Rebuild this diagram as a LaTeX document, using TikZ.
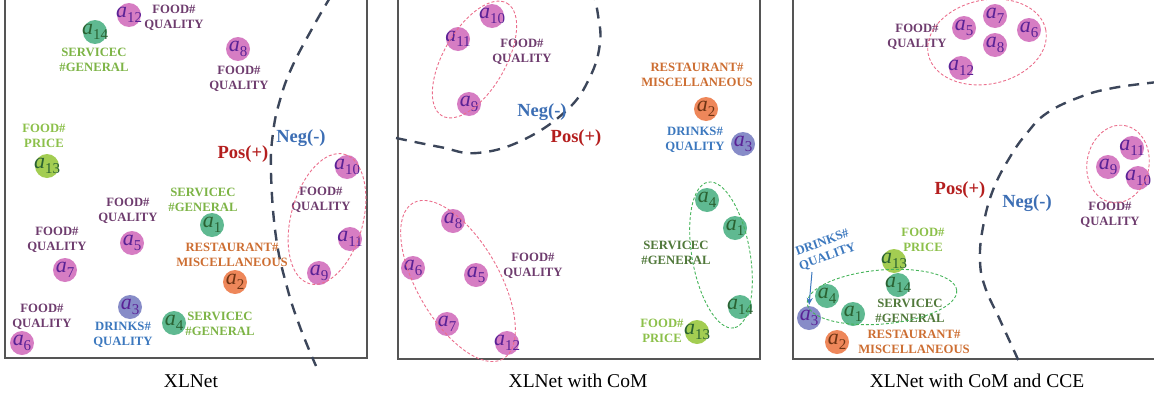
\documentclass[tikz,border=0pt]{standalone}
\usepackage{fontspec}
\setmainfont{Liberation Serif}
\usetikzlibrary{arrows.meta}

% palette
\definecolor{pinkdot}{HTML}{D67DC3}
\definecolor{greendot}{HTML}{5FB991}
\definecolor{limedot}{HTML}{A3CD52}
\definecolor{orangedot}{HTML}{EE875A}
\definecolor{bluedot}{HTML}{878CC8}
\definecolor{purpletxt}{HTML}{5A2296}
\definecolor{greentxt}{HTML}{2A6232}
\definecolor{browntxt}{HTML}{6E3414}
\definecolor{foodq}{HTML}{6E3C6E}
\definecolor{servlight}{HTML}{7DB446}
\definecolor{servdark}{HTML}{50783A}
\definecolor{pricegreen}{HTML}{8CC04A}
\definecolor{restor}{HTML}{CD6E32}
\definecolor{drinkblue}{HTML}{3C78BE}
\definecolor{posred}{HTML}{B41E1E}
\definecolor{negblue}{HTML}{3C6EB4}
\definecolor{boundary}{HTML}{3C465A}
\definecolor{ringpink}{HTML}{EB6E8C}
\definecolor{ringgreen}{HTML}{46B45A}
\definecolor{framegray}{HTML}{555555}

% aspect symbol a_k
\newcommand\am[1]{\makebox[0pt]{\fontsize{22}{22}\selectfont\textit{a}\raisebox{-4.5pt}{\fontsize{15}{15}\selectfont #1}}}

\begin{document}
\begin{tikzpicture}[x=1pt,y=-1pt,
  dot/.style={circle,fill=#1,minimum size=24pt,inner sep=0pt},
  pk/.style={dot=pinkdot,text=purpletxt},
  gr/.style={dot=greendot,text=greentxt},
  lm/.style={dot=limedot,text=greentxt},
  og/.style={dot=orangedot,text=browntxt},
  bl/.style={dot=bluedot,text=purpletxt},
  tag/.style={align=center,inner sep=0pt,font=\bfseries\fontsize{12.7}{15}\selectfont},
  fq/.style={tag,text=foodq},
  svl/.style={tag,text=servlight},
  svd/.style={tag,text=servdark},
  prc/.style={tag,text=pricegreen},
  rst/.style={tag,text=restor},
  drk/.style={tag,text=drinkblue},
  postag/.style={inner sep=0pt,text=posred,font=\bfseries\fontsize{18.5}{18.5}\selectfont},
  negtag/.style={inner sep=0pt,text=negblue,font=\bfseries\fontsize{18.5}{18.5}\selectfont},
  bound/.style={draw=boundary,line width=2.4pt,dash pattern=on 11pt off 8pt},
  ringp/.style={draw=ringpink,line width=0.9pt,dash pattern=on 3pt off 2pt},
  ringg/.style={draw=ringgreen,line width=0.9pt,dash pattern=on 3pt off 2pt},
  frame/.style={draw=framegray,line width=1.5pt},
  caption/.style={inner sep=0pt,font=\fontsize{19.5}{20}\selectfont}
]
\useasboundingbox (0,0) rectangle (1154,399);
\clip (0,0) rectangle (1154,399);

% ---------- panel frames (top edge open) ----------
\draw[frame] (5,-5) -- (5,358) -- (367,358) -- (367,-5);
\draw[frame] (398,-5) -- (398,359) -- (760,359) -- (760,-5);
\draw[frame] (793,-5) -- (793,359) -- (1160,359);

% ---------- panel 1: XLNet ----------
\draw[bound] plot[smooth,tension=0.7] coordinates {(331,-4) (313,27) (292,67) (280,100) (273,133) (271,173) (276,237) (287,287) (300,327) (316,366)};

\node[pk] (p1a12) at (129,15) {\am{12}};
\node[gr] (p1a14) at (95,32) {\am{14}};
\node[pk] (p1a8) at (238,49) {\am{8}};
\node[lm] (p1a13) at (47,166) {\am{13}};
\node[pk] (p1a10) at (347,167) {\am{10}};
\node[pk] (p1a11) at (350,239) {\am{11}};
\node[pk] (p1a9) at (319,273) {\am{9}};
\node[pk] (p1a5) at (132,243) {\am{5}};
\node[gr] (p1a1) at (212,225) {\am{1}};
\node[og] (p1a2) at (235,282) {\am{2}};
\node[pk] (p1a7) at (65,270) {\am{7}};
\node[pk] (p1a6) at (22,343) {\am{6}};
\node[bl] (p1a3) at (130,307) {\am{3}};
\node[gr] (p1a4) at (174,323) {\am{4}};

\node[fq] (p1t1) at (174,18) {FOOD\#\\QUALITY};
\node[svl] (p1t2) at (94,60) {SERVICEC\\\#GENERAL};
\node[fq] (p1t3) at (239,79) {FOOD\#\\QUALITY};
\node[prc] (p1t4) at (44,136) {FOOD\#\\PRICE};
\node[fq] (p1t5) at (321,200) {FOOD\#\\QUALITY};
\node[fq] (p1t6) at (128,211) {FOOD\#\\QUALITY};
\node[svl] (p1t7) at (203,200) {SERVICEC\\\#GENERAL};
\node[rst] (p1t8) at (232,255) {RESTAURANT\#\\MISCELLANEOUS};
\node[fq] (p1t9) at (57,240) {FOOD\#\\QUALITY};
\node[fq] (p1t10) at (42,317) {FOOD\#\\QUALITY};
\node[drk] (p1t11) at (123,335) {DRINKS\#\\QUALITY};
\node[svl] (p1t12) at (220,324) {SERVICEC\\\#GENERAL};
\node[negtag] (p1neg) at (301,138) {Neg(-)};
\node[postag] (p1pos) at (243,154) {Pos(+)};

\draw[ringp,rotate around={75:(327,219)}] (327,219) ellipse [x radius=67,y radius=36];

% ---------- panel 2: XLNet with CoM ----------
\draw[bound] plot[smooth,tension=0.7] coordinates {(396,138) (440,147) (477,153) (523,140) (567,110) (590,77) (600,43) (598,15) (594,-4)};

\node[pk] (p2a10) at (492,16) {\am{10}};
\node[pk] (p2a11) at (458,39) {\am{11}};
\node[pk] (p2a9) at (469,104) {\am{9}};
\node[og] (p2a2) at (706,109) {\am{2}};
\node[bl] (p2a3) at (743,144) {\am{3}};
\node[pk] (p2a8) at (453,221) {\am{8}};
\node[pk] (p2a6) at (413,268) {\am{6}};
\node[pk] (p2a5) at (476,275) {\am{5}};
\node[pk] (p2a7) at (447,324) {\am{7}};
\node[pk] (p2a12) at (507,343) {\am{12}};
\node[gr] (p2a4) at (707,200) {\am{4}};
\node[gr] (p2a1) at (735,228) {\am{1}};
\node[gr] (p2a14) at (740,307) {\am{14}};
\node[lm] (p2a13) at (697,332) {\am{13}};

\node[fq] (p2t1) at (522,52) {FOOD\#\\QUALITY};
\node[rst] (p2t2) at (697,75) {RESTAURANT\#\\MISCELLANEOUS};
\node[drk] (p2t3) at (695,140) {DRINKS\#\\QUALITY};
\node[fq] (p2t4) at (533,266) {FOOD\#\\QUALITY};
\node[svd] (p2t5) at (676,253) {SERVICEC\\\#GENERAL};
\node[prc] (p2t6) at (662,331) {FOOD\#\\PRICE};
\node[negtag] (p2neg) at (542,112) {Neg(-)};
\node[postag] (p2pos) at (576,138) {Pos(+)};

\draw[ringp,rotate around={60:(474.5,59.5)}] (474.5,59.5) ellipse [x radius=65,y radius=31];
\draw[ringp,rotate around={-60:(458,281)}] (458,281) ellipse [x radius=90,y radius=41];
\draw[ringg,rotate around={-80:(721,255)}] (721,255) ellipse [x radius=74,y radius=29];

% ---------- panel 3: XLNet with CoM and CCE ----------
\draw[bound] plot[smooth,tension=0.7] coordinates {(1158,82) (1113,88) (1080,97) (1047,113) (1027,133) (1010,157) (993,190) (983,227) (980,260) (985,287) (1000,320) (1021,366)};

\node[pk] (p3a5) at (964,28) {\am{5}};
\node[pk] (p3a7) at (995,16) {\am{7}};
\node[pk] (p3a8) at (995,45) {\am{8}};
\node[pk] (p3a6) at (1029,30) {\am{6}};
\node[pk] (p3a12) at (961,68) {\am{12}};
\node[pk] (p3a11) at (1132,148) {\am{11}};
\node[pk] (p3a9) at (1108,167) {\am{9}};
\node[pk] (p3a10) at (1138,178) {\am{10}};
\node[lm] (p3a13) at (894,261) {\am{13}};
\node[gr] (p3a14) at (898,285) {\am{14}};
\node[gr] (p3a4) at (827,296) {\am{4}};
\node[gr] (p3a1) at (853,314) {\am{1}};
\node[bl] (p3a3) at (809,318) {\am{3}};
\node[og] (p3a2) at (837,342) {\am{2}};

\node[fq] (p3t1) at (917,37) {FOOD\#\\QUALITY};
\node[fq] (p3t2) at (1110,215) {FOOD\#\\QUALITY};
\node[prc] (p3t3) at (923,240) {FOOD\#\\PRICE};
\node[svd] (p3t4) at (910,311) {SERVICEC\\\#GENERAL};
\node[rst] (p3t5) at (914,342) {RESTAURANT\#\\MISCELLANEOUS};
\node[drk,rotate=20] (p3t6) at (825,250) {DRINKS\#\\QUALITY};
\node[negtag] (p3neg) at (1027,203) {Neg(-)};
\node[postag] (p3pos) at (960,190) {Pos(+)};

\draw[ringp,rotate around={12:(987,42)}] (987,42) ellipse [x radius=60,y radius=42];
\draw[ringp,rotate around={80:(1118,164)}] (1118,164) ellipse [x radius=39,y radius=31];
\draw[ringg,rotate around={5:(882,297)}] (882,297) ellipse [x radius=75,y radius=27];

\coordinate (p3arr) at (812,272);
\draw[draw=drinkblue,line width=1pt,-{Stealth[length=7pt,width=6pt]},shorten >=1pt] (p3arr) -- (p3a3.north);

% ---------- captions ----------
\node[caption] (cap1) at (191,381) {XLNet};
\node[caption] (cap2) at (578,381) {XLNet with CoM};
\node[caption] (cap3) at (977,381) {XLNet with CoM and CCE};
\end{tikzpicture}
\end{document}
